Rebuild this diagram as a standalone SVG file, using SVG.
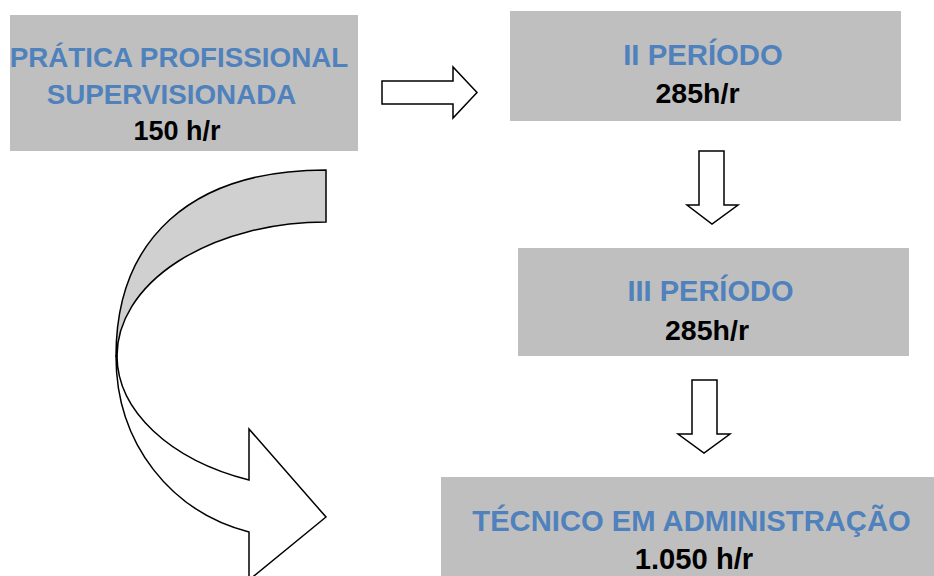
<svg xmlns="http://www.w3.org/2000/svg" width="934" height="576" viewBox="0 0 934 576">
<style>
.box{fill:#bfbfbf;stroke:none}
.t{font-family:"Liberation Sans",Arial,sans-serif;font-weight:bold;text-anchor:middle}
.blue{fill:#4f81bd}
.blk{fill:#000}
.arr{fill:#fff;stroke:#000;stroke-width:1.5;stroke-linejoin:miter}
</style>
<rect width="934" height="576" fill="#fff"/>
<g id="connectors">
<path class="arr" d="M382,81 H453 V67 L477,92.5 L453,118 V104 H382 Z"/>
<path class="arr" d="M699,151 H724 V205 H738 L712,224 L687,205 H699 Z"/>
<path class="arr" d="M692,380 H717 V434 H730 L704,453 L678,434 H692 Z"/>
<path class="arr" d="M116,356 C116,445 172,512 249,532 L249,580 L326,517 L249,429 L249,480 A209,134 0 0 1 117,356 Z"/>
<path class="arr" style="fill:#d0d0d0" d="M326,170 C190,170 116,240 116,356 L117,356 A209,134 0 0 1 326,222 Z"/>
</g>
<g id="node-pratica">
<rect class="box" x="10" y="15" width="348" height="136"/>
<text class="t blue" x="179" y="67" font-size="27.8">PRÁTICA PROFISSIONAL</text>
<text class="t blue" x="171.5" y="104" font-size="27.8">SUPERVISIONADA</text>
<text class="t blk" x="177" y="140" font-size="27">150 h/r</text>
</g>
<g id="node-ii">
<rect class="box" x="510" y="11" width="391" height="110"/>
<text class="t blue" x="703" y="65" font-size="29.3">II PERÍODO</text>
<text class="t blk" x="697.5" y="103" font-size="28.5">285h/r</text>
</g>
<g id="node-iii">
<rect class="box" x="518" y="248" width="391" height="108"/>
<text class="t blue" x="710.5" y="301" font-size="29">III PERÍODO</text>
<text class="t blk" x="707" y="340" font-size="28.5">285h/r</text>
</g>
<g id="node-tecnico">
<rect class="box" x="441" y="477" width="500" height="110"/>
<text class="t blue" x="691.5" y="531" font-size="29.2">TÉCNICO EM ADMINISTRAÇÃO</text>
<text class="t blk" x="694" y="569" font-size="29.2">1.050 h/r</text>
</g>
</svg>
